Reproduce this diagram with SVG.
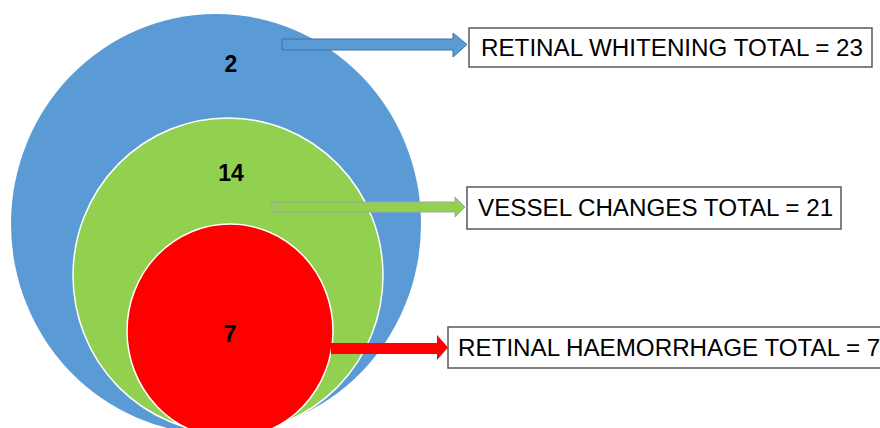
<svg xmlns="http://www.w3.org/2000/svg" width="880" height="428" viewBox="0 0 880 428">
<style>
.num{font-family:"Liberation Sans",Arial,sans-serif;font-weight:bold;font-size:23px;fill:#000;text-anchor:middle}
.lbl{font-family:"Liberation Sans",Arial,sans-serif;font-size:24.2px;fill:#000}
.box{fill:#fff;stroke:#595959;stroke-width:1.5}
.ring{stroke:#fff;stroke-width:1.5}
</style>
<rect width="880" height="428" fill="#fff"/>
<g id="blue-circle">
<ellipse cx="216" cy="224" rx="205" ry="210" fill="#5B9BD5"/>
<text class="num" x="231" y="72">2</text>
</g>
<g id="green-circle">
<ellipse class="ring" cx="228" cy="275.5" rx="155" ry="157.5" fill="#92D050"/>
<text class="num" x="231" y="181">14</text>
</g>
<g id="red-circle">
<ellipse class="ring" cx="230" cy="331" rx="103" ry="107" fill="#FF0000"/>
<text class="num" x="230" y="342">7</text>
</g>
<g id="connectors">
<polygon points="282,39 453,39 453,33 467,44.5 453,57 453,50 282,50" fill="#5B9BD5" stroke="#41719C" stroke-width="1"/>
<polygon points="272,202 455,202 455,197 465,207 455,217 455,212 272,212" fill="#92D050" stroke="#A5A5A5" stroke-width="1"/>
<polygon points="331,343 437,343 437,335 448,347.5 437,360 437,354 331,354" fill="#FF0000"/>
</g>
<g id="label-whitening">
<rect class="box" x="469" y="28" width="403" height="39"/>
<text class="lbl" x="481" y="56">RETINAL WHITENING TOTAL = 23</text>
</g>
<g id="label-vessel">
<rect class="box" x="467" y="187" width="374" height="42"/>
<text class="lbl" x="478" y="216">VESSEL CHANGES TOTAL = 21</text>
</g>
<g id="label-haemorrhage">
<rect class="box" x="448" y="327" width="440" height="41"/>
<text class="lbl" x="458" y="356">RETINAL HAEMORRHAGE TOTAL = 7</text>
</g>
</svg>
